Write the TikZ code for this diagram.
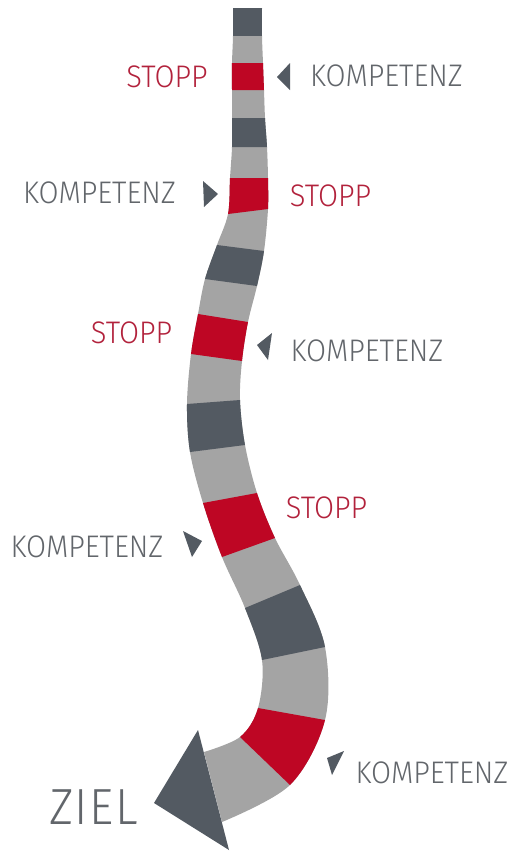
\documentclass[tikz,border=0pt]{standalone}
\usepackage{fontspec}
\setmainfont{Fira Sans Light}[FakeStretch=0.93]
\usetikzlibrary{calc}
\definecolor{banddark}{RGB}{83,90,98}
\definecolor{bandlight}{RGB}{164,164,164}
\definecolor{bandred}{RGB}{190,6,36}
\definecolor{txtred}{RGB}{178,34,60}
\definecolor{txtgray}{RGB}{98,102,107}
\tikzset{
  lbl/.style={inner sep=0pt, font=\fontsize{31.2}{38}\selectfont},
  komp/.style={lbl, text=txtgray},
  stopp/.style={lbl, text=txtred},
  marker/.style={fill=banddark, draw=none},
}
\newcommand{\seg}[3]{%
  \fill[#3] ($(L#1)!-0.3!(R#1)$) -- ($(R#1)!-0.3!(L#1)$) -- ($(R#2)!-0.3!(L#2)$) -- ($(L#2)!-0.3!(R#2)$) -- cycle;}
\begin{document}
\begin{tikzpicture}[x=1pt,y=-1pt]
\useasboundingbox (0,0) rectangle (514,852);
% boundary points of the band (left / right edges)
\coordinate (L0) at (233,8);   \coordinate (R0) at (262,8);
\coordinate (L1) at (233,36);  \coordinate (R1) at (262,36);
\coordinate (L2) at (232,63);  \coordinate (R2) at (263,63);
\coordinate (L3) at (232,90);  \coordinate (R3) at (264,90);
\coordinate (L4) at (232,118); \coordinate (R4) at (265,118);
\coordinate (L5) at (232,147); \coordinate (R5) at (267,147);
\coordinate (L6) at (230,178); \coordinate (R6) at (268,178);
\coordinate (L7) at (228,214); \coordinate (R7) at (268,209);
\coordinate (L8) at (217,245); \coordinate (R8) at (264,251);
\coordinate (L9) at (205,279); \coordinate (R9) at (257,286);
\coordinate (L10) at (198,314); \coordinate (R10) at (248,322);
\coordinate (L11) at (191,354); \coordinate (R11) at (242,361);
\coordinate (L12) at (187,404); \coordinate (R12) at (240,400);
\coordinate (L13) at (190,452); \coordinate (R13) at (245,445);
\coordinate (L14) at (203,503); \coordinate (R14) at (257,493);
\coordinate (L15) at (222,557); \coordinate (R15) at (275,538);
\coordinate (L16) at (245,608); \coordinate (R16) at (300,585);
\coordinate (L17) at (262,660); \coordinate (R17) at (325,647);
\coordinate (L18) at (258,708); \coordinate (R18) at (325,720);
\coordinate (L19) at (240,737); \coordinate (R19) at (290,785);
\coordinate (L20) at (204,752); \coordinate (R20) at (222,822);
% arrow head corners
\coordinate (A1) at (198,730);
\coordinate (A2) at (154,803);
\coordinate (A3) at (229,850);
\begin{scope}
\clip plot[smooth,tension=0.55] coordinates {(L0) (L1) (L2) (L3) (L4) (L5) (L6) (L7) (L8) (L9) (L10) (L11) (L12) (L13) (L14) (L15) (L16) (L17) (L18) (L19) (L20)}
  -- plot[smooth,tension=0.55] coordinates {(R20) (R19) (R18) (R17) (R16) (R15) (R14) (R13) (R12) (R11) (R10) (R9) (R8) (R7) (R6) (R5) (R4) (R3) (R2) (R1) (R0)} -- cycle;
\fill[bandlight] (150,0) rectangle (360,852);
\seg{0}{1}{banddark}
\seg{2}{3}{bandred}
\seg{4}{5}{banddark}
\seg{6}{7}{bandred}
\seg{8}{9}{banddark}
\seg{10}{11}{bandred}
\seg{12}{13}{banddark}
\seg{14}{15}{bandred}
\seg{16}{17}{banddark}
\seg{18}{19}{bandred}
\end{scope}
\fill[banddark] (A1) -- (A2) -- (A3) -- cycle;
% small markers
\fill[marker] (277,77) -- (290,63) -- (290,90) -- cycle;
\fill[marker] (203,181) -- (218,194) -- (204,207) -- cycle;
\fill[marker] (257,345) -- (272,333) -- (268,360) -- cycle;
\fill[marker] (183,531) -- (202,541) -- (192,557) -- cycle;
\fill[marker] (327,758) -- (344,751) -- (332,775) -- cycle;
% labels
\node[stopp] (s1) at (167,77) {STOPP};
\node[komp]  (k1) at (386.5,75.5) {KOMPETENZ};
\node[komp]  (k2) at (99.5,193) {KOMPETENZ};
\node[stopp] (s2) at (330.5,196) {STOPP};
\node[stopp] (s3) at (131.5,332.5) {STOPP};
\node[komp]  (k3) at (367,351) {KOMPETENZ};
\node[stopp] (s4) at (326.5,508) {STOPP};
\node[komp]  (k4) at (87,547) {KOMPETENZ};
\node[komp]  (k5) at (432,772.5) {KOMPETENZ};
\node[komp, font=\fontsize{50.8}{58}\selectfont\addfontfeatures{LetterSpace=3}] (ziel) at (93.5,807.5) {ZIEL};
\end{tikzpicture}
\end{document}
